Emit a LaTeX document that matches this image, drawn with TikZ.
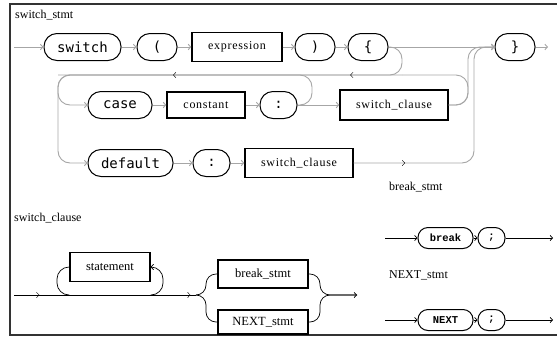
\documentclass[tikz,border=0pt]{standalone}
\usepackage{fontspec}
\setmainfont{Liberation Serif}
\newfontfamily\kwfont{DejaVu Sans Mono}
\newfontfamily\boxfont[LetterSpace=6]{Liberation Serif}
\newfontfamily\codefont{Liberation Mono}
\usetikzlibrary{calc,positioning,arrows,arrows.meta,decorations.markings}

\begin{document}
\begin{tikzpicture}[x=1pt,y=-1pt,>={Straight Barb[length=2.5pt,width=5.5pt]},
  lbl/.style={inner sep=0pt, anchor=west, font=\fontsize{12}{12}\selectfont},
  gline/.style={black!35, line width=0.9pt},
  bline/.style={black, line width=0.7pt},
  tipat/.style={decoration={markings,mark=at position #1 with {\arrow{>}}},decorate}]
\tikzstyle{term}=[draw=black, line width=1pt, rounded corners=13, minimum height=27, inner sep=0pt, font=\kwfont\fontsize{14}{14}\selectfont]
\tikzstyle{nterm}=[draw=black, line width=1.4pt, rounded corners=0, minimum height=29, inner sep=0pt, font=\boxfont\fontsize{12}{12}\selectfont]
\tikzstyle{box}=[draw=black, line width=1.2pt, minimum height=28, inner sep=0pt, font=\fontsize{12.5}{12.5}\selectfont]
\tikzstyle{tok}=[draw=black, line width=1pt, rounded corners=10, minimum height=21, inner sep=0pt, font=\codefont\bfseries\fontsize{10.5}{10.5}\selectfont]
\useasboundingbox (0,0) rectangle (557,338);
\draw[black!80, line width=1.2pt] (557,4) -- (10,4) -- (10,335) -- (557,335);

% switch_stmt
\node[lbl] (l1) at (15,15) {switch\_stmt};
\node[term, minimum width=77] (sw) at (82.5,47) {switch};
\node[term, minimum width=40] (lp) at (157,47) {(};
\node[nterm, minimum width=90] (ex) at (237,47) {expression};
\node[term, minimum width=40] (rp) at (315,47) {)};
\node[term, minimum width=40] (lb) at (368,47) {\{};
\node[term, minimum width=40] (rb) at (515,47) {\}};
\node[term, minimum width=64] (cs) at (120,105) {case};
\node[nterm, minimum width=78, minimum height=26] (ct) at (206,105) {constant};
\node[term, minimum width=37] (cc) at (278.5,105) {:};
\node[nterm, minimum width=108, minimum height=30] (cl1) at (394,105) {switch\_clause};
\node[term, minimum width=85] (df) at (130.5,163) {default};
\node[term, minimum width=37] (dc) at (211.5,163) {:};
\node[nterm, minimum width=108] (cl2) at (299,163) {switch\_clause};
\coordinate (in1) at (14,47);
\coordinate (out1) at (548,47);
\coordinate (uL) at (402,47);
\coordinate (uLb) at (402,75);
\coordinate (rR) at (468,75);
\coordinate (rL) at (58,75);
\coordinate (vC) at (58,105);
\coordinate (vD) at (58,163);
\coordinate (cU) at (312,105);
\coordinate (cUt) at (312,75);
\coordinate (k1) at (468,105);
\coordinate (k1t) at (468,47);
\coordinate (k2) at (474,163);
\coordinate (k2t) at (474,47);
\coordinate (dm) at (457,163);
\draw[gline,->] (in1) -- (sw);
\foreach \i/\j in {sw/lp,lp/ex,ex/rp,rp/lb,lb/rb,cs/ct,ct/cc,cc/cl1,df/dc,dc/cl2,rb/out1}{\draw[gline,->] (\i) -- (\j);}
\draw[gline,rounded corners=12,->] (lb.east) -- (uL) -- (uLb) -- (rL) -- (vD) -- (df);
\draw[gline,rounded corners=12,->] (uLb) -- (rL) -- (vC) -- (cs);
\draw[gline,rounded corners=12] (cl1.east) -- (k1) -- (rR) -- (uLb);
\draw[gline,rounded corners=12,->] (cl1.east) -- (k1) -- (k1t) -- (rb);
\draw[gline,rounded corners=12] (cc.east) -- (cU) -- (cUt) -- (rL);
\draw[gline,rounded corners=12,->] (cl2.east) -- (k2) -- (k2t) -- (rb);
\foreach \p in {0.288,0.72}{\path[gline,tipat=\p] (rR) -- (rL);}
\path[gline,tipat=0.5] (cl2.east) -- (dm);

% switch_clause
\node[lbl] (l2) at (14,218) {switch\_clause};
\node[box, minimum width=80, minimum height=29] (st) at (110,267) {statement};
\node[box, minimum width=90] (bk) at (263,274) {break\_stmt};
\node[box, minimum width=90, minimum height=24] (nx) at (263,322) {NEXT\_stmt};
\coordinate (in2) at (14,295);
\coordinate (bL) at (196,295);
\coordinate (bx1) at (206,295);
\coordinate (bx2) at (320,295);
\coordinate (out2) at (357,295);
\coordinate (sL) at (57,267);
\coordinate (sLb) at (57,295);
\coordinate (sR) at (163,267);
\coordinate (sRb) at (163,295);
\draw[bline] (in2) -- (bL);
\foreach \p in {0.14,0.97}{\path[bline,tipat=\p] (in2) -- (bL);}
\draw[bline,rounded corners=12] (st.west) -- (sL) -- (sLb) -- (st.west |- sLb);
\draw[bline,rounded corners=12,->] (st.east |- sRb) -- (sRb) -- (sR) -- (st.east);
\draw[bline,rounded corners=10] (bL) -- (bx1) -- (bx1 |- bk) -- (bk);
\draw[bline,rounded corners=10] (bL) -- (bx1) -- (bx1 |- nx) -- (nx);
\draw[bline,rounded corners=10,->] (bk) -- (bx2 |- bk) -- (bx2) -- (out2);
\draw[bline,rounded corners=10] (nx) -- (bx2 |- nx) -- (bx2) -- (out2);

% break_stmt and NEXT_stmt
\node[lbl] (l3) at (389,187) {break\_stmt};
\node[tok, minimum width=55] (br) at (445.5,238) {break};
\node[tok, minimum width=27] (s1) at (491.5,238) {;};
\node[lbl] (l4) at (389,275) {NEXT\_stmt};
\node[tok, minimum width=55] (nt) at (445.5,320) {NEXT};
\node[tok, minimum width=27] (s2) at (491.5,320) {;};
\coordinate (in3) at (385,238);
\coordinate (out3) at (553,238);
\coordinate (in4) at (385,320);
\coordinate (out4) at (553,320);
\foreach \i/\j in {in3/br,br/s1,s1/out3,in4/nt,nt/s2,s2/out4}{\draw[bline,->] (\i) -- (\j);}
\end{tikzpicture}
\end{document}
